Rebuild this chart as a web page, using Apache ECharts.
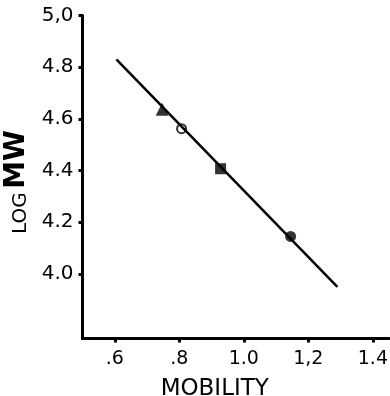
<!DOCTYPE html>
<html>
<head>
<meta charset="utf-8">
<script src="https://cdn.jsdelivr.net/npm/echarts@6/dist/echarts.min.js"></script>
<style>
  html, body { margin: 0; padding: 0; background: #fff; }
  #chart { width: 390px; height: 396px; }
</style>
</head>
<body>
<div id="chart"></div>
<script>
// fitted line end points (mobility, log MW)
const lineX = [0.605, 1.29];
const lineY = [4.83, 3.95];

// marker points
const triangleX = [0.747];
const triangleY = [4.637];
const openX = [0.807];
const openY = [4.562];
const squareX = [0.928];
const squareY = [4.407];
const dotX = [1.145];
const dotY = [4.145];

const xTicks = [0.6, 0.8, 1.0, 1.2, 1.4];
const xTickLabels = ['.6', '.8', '1.0', '1,2', '1.4'];
const yTicks = [4.0, 4.2, 4.4, 4.6, 4.8, 5.0];
const yTickLabels = ['4.0', '4.2', '4.4', '4.6', '4.8', '5,0'];

const font = '"DejaVu Sans", sans-serif';
const pairs = (xs, ys) => xs.map((x, i) => [x, ys[i]]);
const labelOf = (ticks, labels) => (v) => {
  const i = ticks.findIndex((t) => Math.abs(t - v) < 1e-6);
  return i >= 0 ? labels[i] : '';
};

const chart = echarts.init(document.getElementById('chart'));
chart.setOption({
  animation: false,
  grid: {
    left: 82.5, right: 1, top: 15.5, bottom: 57.5, containLabel: false, outerBoundsMode: 'none',
  },
  xAxis: {
    type: 'value',
    min: 0.5,
    max: 1.45,
    name: 'MOBILITY',
    nameLocation: 'middle',
    nameGap: 39,
    nameTextStyle: {
      fontFamily: font, fontSize: 23, color: '#000', padding: [0, 42, 0, 0],
    },
    axisLine: { lineStyle: { color: '#000', width: 3 } },
    axisTick: {
      customValues: xTicks, length: 4, lineStyle: { color: '#000', width: 3 },
    },
    axisLabel: {
      customValues: xTicks,
      formatter: labelOf(xTicks, xTickLabels),
      margin: 11,
      fontFamily: font,
      fontSize: 19,
      color: '#000',
    },
    splitLine: { show: false },
  },
  yAxis: {
    type: 'value',
    min: 3.75,
    max: 5.0,
    name: '{s|LOG} {b|MW}',
    nameLocation: 'middle',
    nameRotate: 90,
    nameGap: 50,
    nameTextStyle: {
      padding: [0, 10, 0, 0],
      rich: {
        s: {
          fontFamily: font, fontSize: 20, color: '#000', verticalAlign: 'bottom',
        },
        b: {
          fontFamily: font, fontSize: 28, fontWeight: 'bold', color: '#000', verticalAlign: 'bottom',
        },
      },
    },
    axisLine: { lineStyle: { color: '#000', width: 3 } },
    axisTick: {
      customValues: yTicks, length: 4, lineStyle: { color: '#000', width: 3 },
    },
    axisLabel: {
      customValues: yTicks,
      formatter: labelOf(yTicks, yTickLabels),
      margin: 9,
      fontFamily: font,
      fontSize: 20,
      color: '#000',
    },
    splitLine: { show: false },
  },
  series: [
    {
      type: 'line',
      data: pairs(lineX, lineY),
      symbol: 'none',
      lineStyle: { color: '#000', width: 2.5 },
    },
    {
      type: 'scatter',
      data: pairs(triangleX, triangleY),
      symbol: 'triangle',
      symbolSize: 13,
      itemStyle: { color: '#000' },
    },
    {
      type: 'scatter',
      data: pairs(openX, openY),
      symbol: 'circle',
      symbolSize: 9,
      itemStyle: { color: '#fff', borderColor: '#000', borderWidth: 2 },
    },
    {
      type: 'scatter',
      data: pairs(squareX, squareY),
      symbol: 'rect',
      symbolSize: 11,
      itemStyle: { color: '#000' },
    },
    {
      type: 'scatter',
      data: pairs(dotX, dotY),
      symbol: 'circle',
      symbolSize: 11,
      itemStyle: { color: '#000' },
    },
  ],
});
</script>
</body>
</html>
